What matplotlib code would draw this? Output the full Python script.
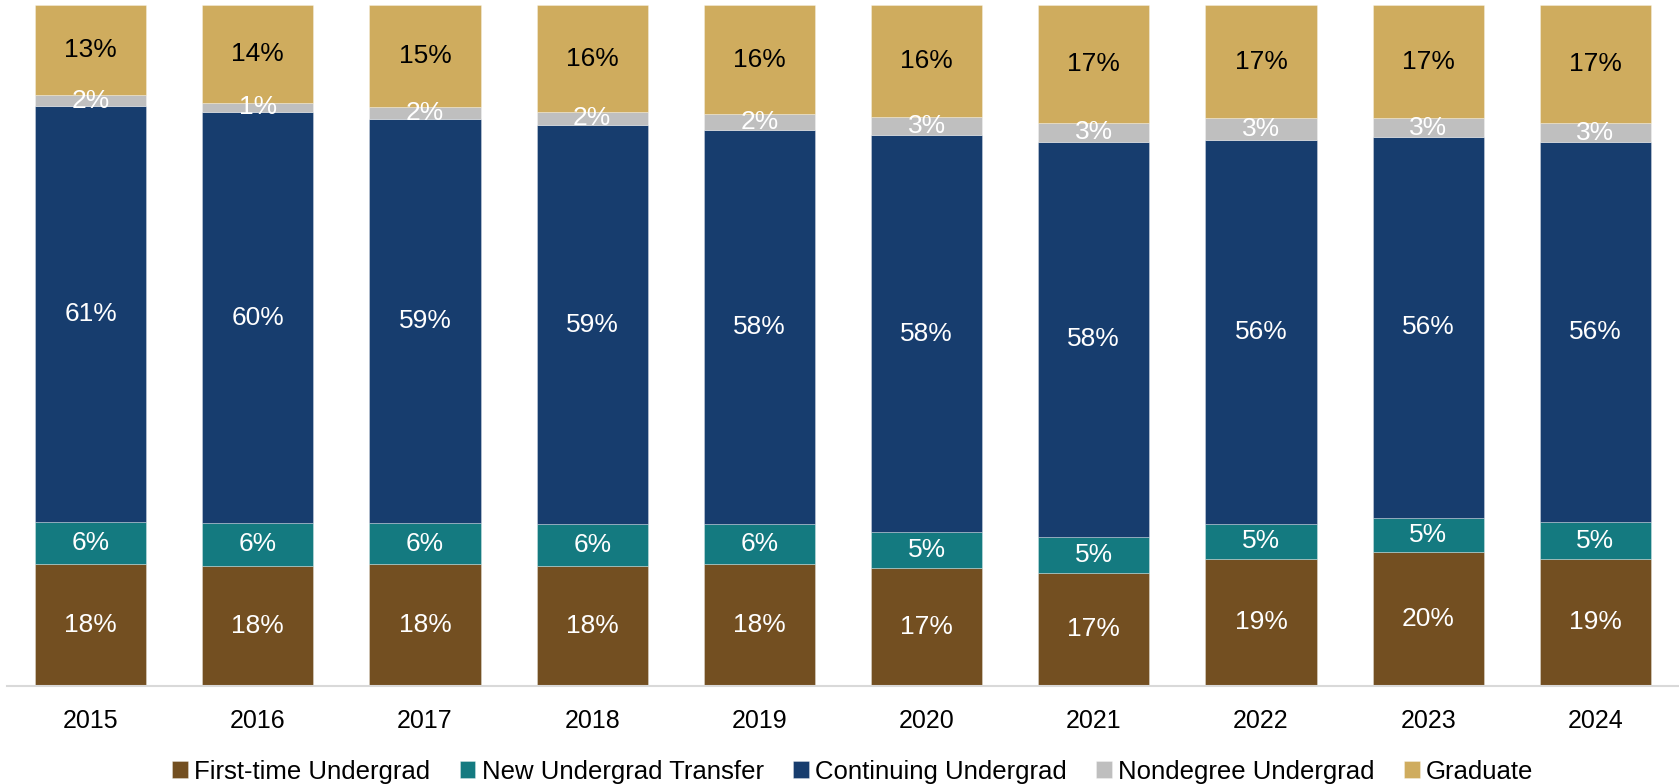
import matplotlib
matplotlib.use("Agg")
import matplotlib.pyplot as plt
import numpy as np

years = ["2015", "2016", "2017", "2018", "2019", "2020", "2021", "2022", "2023", "2024"]
series_names = ["First-time Undergrad", "New Undergrad Transfer", "Continuing Undergrad",
                "Nondegree Undergrad", "Graduate"]
first_time = [17.8, 17.6, 17.8, 17.6, 17.9, 17.3, 16.6, 18.6, 19.6, 18.6]
new_transfer = [6.3, 6.3, 6.1, 6.1, 5.8, 5.3, 5.3, 5.2, 5.1, 5.4]
continuing = [61.1, 60.4, 59.4, 58.7, 58.0, 58.3, 58.0, 56.4, 55.9, 55.9]
nondegree = [1.6, 1.4, 1.8, 2.0, 2.3, 2.7, 2.85, 3.2, 2.8, 2.8]
graduate = [13.2, 14.3, 14.9, 15.6, 16.0, 16.4, 17.25, 16.6, 16.6, 17.3]

colors = ["#734F21", "#147A80", "#173D6E", "#BFBFBF", "#CFAC5E"]
text_colors = ["white", "white", "white", "white", "black"]

plt.rcParams['font.family'] = ['Liberation Sans', 'DejaVu Sans']

fig = plt.figure(figsize=(16.79, 7.84), dpi=100)
ax = fig.add_axes([0.0042, 0.1256, 0.9958, 0.8674])

x = np.arange(len(years))
data = [first_time, new_transfer, continuing, nondegree, graduate]
bottom = np.zeros(len(years))
for vals, name, c, tc in zip(data, series_names, colors, text_colors):
    vals = np.array(vals)
    ax.bar(x, vals, width=0.665, bottom=bottom, color=c, label=name,
           edgecolor=(1, 1, 1, 0.35), linewidth=0.6)
    for xi, b, v in zip(x, bottom, vals):
        ax.text(xi, b + v / 2, f"{v:.0f}%", ha="center", va="center",
                color=tc, fontsize=19)
    bottom += vals

ax.set_xlim(-0.5, 9.5)
ax.set_ylim(0, 100)
ax.set_xticks(x)
ax.set_xticklabels(years, fontsize=18)
ax.tick_params(axis="x", length=0, pad=17)
ax.set_yticks([])
for s in ["top", "right", "left"]:
    ax.spines[s].set_visible(False)
ax.spines["bottom"].set_color("#D9D9D9")
ax.spines["bottom"].set_linewidth(1.5)

fig.legend(loc="lower center", bbox_to_anchor=(0.508, -0.029), ncol=5, frameon=False,
           fontsize=18.5, handlelength=0.6, handleheight=0.6, handletextpad=0.25,
           columnspacing=1.15)

fig.savefig("out.png", dpi=100)
